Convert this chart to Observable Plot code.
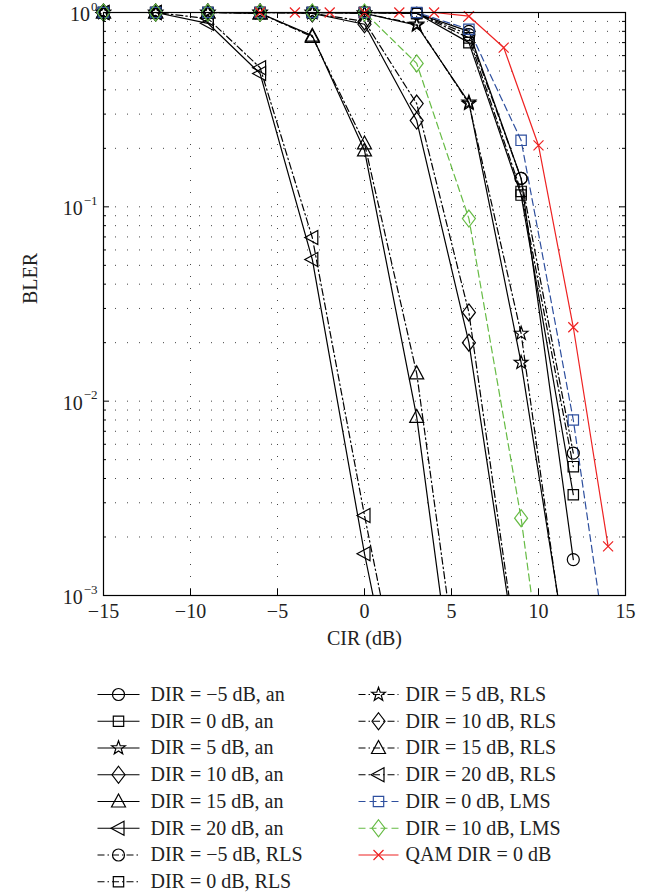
<!DOCTYPE html>
<html><head><meta charset="utf-8">
<script src="https://cdn.jsdelivr.net/npm/d3@7"></script>
<script src="https://cdn.jsdelivr.net/npm/@observablehq/plot@0.6"></script>
<style>body{margin:0;background:#fff;} #chart svg{display:block;}</style>
</head><body><div id="chart"></div><script>
// ---------- data ----------
const cirA = [-15,-12,-9,-6,-3,0,3,6,9,12,15];
const cirQam = [-6,-4,-2,0,2,4,6,8,10,12,14];

const blerM5an  = [1,1,1,1,1,1,0.99,0.80,0.14,0.00153];
const blerM5rls = [1,1,1,1,1,1,0.99,0.77,0.14,0.0054];
const bler0an   = [1,1,1,1,1,1,0.99,0.70,0.115,0.0033];
const bler0rls  = [1,1,1,1,1,1,0.99,0.74,0.12,0.0046];
const bler5an   = [1,1,1,1,1,0.99,0.86,0.345,0.0158,0.00031];
const bler5rls  = [1,1,1,1,1,0.99,0.87,0.34,0.0223,0.00026];
const bler10an  = [1,1,1,1,0.99,0.87,0.278,0.020,0.00034];
const bler10rls = [1,1,1,1,0.99,0.90,0.34,0.0286,0.00036];
const bler15an  = [1,1,1,0.99,0.76,0.195,0.0083,0.00008];
const bler15rls = [1,1,1,0.99,0.75,0.212,0.0139,0.00015];
const bler20an  = [1,1,0.88,0.485,0.0536,0.00164,0.00008];
const bler20rls = [1,1,0.93,0.52,0.0695,0.00258,0.00012];
const bler0lms  = [1,1,1,1,1,1,1,0.82,0.22,0.008,0.00011];
const bler10lms = [1,1,1,1,1,1,0.547,0.087,0.0025,0.000025];
const blerQam   = [1,1,1,1,1,1,0.957,0.66,0.207,0.024,0.00179];

const seriesLabels = [
  "DIR = −5 dB, an","DIR = 0 dB, an","DIR = 5 dB, an","DIR = 10 dB, an",
  "DIR = 15 dB, an","DIR = 20 dB, an","DIR = −5 dB, RLS","DIR = 0 dB, RLS",
  "DIR = 5 dB, RLS","DIR = 10 dB, RLS","DIR = 15 dB, RLS","DIR = 20 dB, RLS",
  "DIR = 0 dB, LMS","DIR = 10 dB, LMS","QAM DIR = 0 dB"
];
const xTicks = [-15,-10,-5,0,5,10,15];
const yTicks = [1,0.1,0.01,0.001];
const yTickExp = ["0","−1","−2","−3"];
const xLabel = "CIR (dB)";
const yLabel = "BLER";

// ---------- symbols ----------
const kOf = s => Math.sqrt(s/Math.PI)/6;
const SYM = {
  circle:{draw(c,s){const r=6*kOf(s);c.moveTo(r,0);c.arc(0,0,r,0,2*Math.PI);c.closePath();}},
  square:{draw(c,s){const h=5.2*kOf(s);c.moveTo(-h,-h);c.lineTo(h,-h);c.lineTo(h,h);c.lineTo(-h,h);c.closePath();}},
  star:{draw(c,s){const k=kOf(s),R=7.2*k,r=2.9*k;for(let i=0;i<10;i++){const a=-Math.PI/2+i*Math.PI/5,rr=i%2?r:R;const px=rr*Math.cos(a),py=rr*Math.sin(a);i?c.lineTo(px,py):c.moveTo(px,py);}c.closePath();}},
  diamond:{draw(c,s){const k=kOf(s),w=6.5*k,h=8.5*k;c.moveTo(0,-h);c.lineTo(w,0);c.lineTo(0,h);c.lineTo(-w,0);c.closePath();}},
  triangle:{draw(c,s){const k=kOf(s);c.moveTo(0,-7.5*k);c.lineTo(7*k,5.5*k);c.lineTo(-7*k,5.5*k);c.closePath();}},
  left:{draw(c,s){const k=kOf(s);c.moveTo(-7.5*k,0);c.lineTo(5.5*k,-7*k);c.lineTo(5.5*k,7*k);c.closePath();}},
  times:{draw(c,s){const h=5*kOf(s);c.moveTo(-h,-h);c.lineTo(h,h);c.moveTo(h,-h);c.lineTo(-h,h);}}
};

const BLACK="#000", BLUE="#2e4f9e", GREEN="#66bb44", RED="#ee2222";
const SOLID=null, DASHDOT="7,3,1.5,3", DASH="7,4";
const zip = (xs, ys) => ys.map((y,i)=>({x:xs[i], y}));
const series = [
  {pts:zip(cirA,blerM5an), sym:"circle", color:BLACK, dash:SOLID},
  {pts:zip(cirA,bler0an), sym:"square", color:BLACK, dash:SOLID},
  {pts:zip(cirA,bler5an), sym:"star", color:BLACK, dash:SOLID},
  {pts:zip(cirA,bler10an), sym:"diamond", color:BLACK, dash:SOLID},
  {pts:zip(cirA,bler15an), sym:"triangle", color:BLACK, dash:SOLID},
  {pts:zip(cirA,bler20an), sym:"left", color:BLACK, dash:SOLID},
  {pts:zip(cirA,blerM5rls), sym:"circle", color:BLACK, dash:DASHDOT},
  {pts:zip(cirA,bler0rls), sym:"square", color:BLACK, dash:DASHDOT},
  {pts:zip(cirA,bler5rls), sym:"star", color:BLACK, dash:DASHDOT},
  {pts:zip(cirA,bler10rls), sym:"diamond", color:BLACK, dash:DASHDOT},
  {pts:zip(cirA,bler15rls), sym:"triangle", color:BLACK, dash:DASHDOT},
  {pts:zip(cirA,bler20rls), sym:"left", color:BLACK, dash:DASHDOT},
  {pts:zip(cirA,bler0lms), sym:"square", color:BLUE, dash:DASH},
  {pts:zip(cirA,bler10lms), sym:"diamond", color:GREEN, dash:DASH},
  {pts:zip(cirQam,blerQam), sym:"times", color:RED, dash:SOLID}
].map((s,i)=>({...s, label:seriesLabels[i]}));

// ---------- layout ----------
const W=651, H=660, mL=103, mR=26, mT=12, mB=65;
const innerW=W-mL-mR, innerH=H-mT-mB;
const FONT="Liberation Serif";
const FS=20, EXPFS=13;

const yGrid=[];
for (let e=-3;e<0;e++) for (let m=1;m<=9;m++) yGrid.push(m*Math.pow(10,e));
const yMinor = yGrid.filter(v => !yTicks.some(t => Math.abs(t-v)<1e-12));

const ctx = document.createElement("canvas").getContext("2d");
ctx.font = `${EXPFS}px "${FONT}"`;
const yTickData = yTicks.map((v,i)=>({v, exp:yTickExp[i], w:ctx.measureText(yTickExp[i]).width}));

const marks = [
  Plot.ruleX(xTicks.slice(1,-1), {x:d=>d, stroke:"#444", strokeWidth:1, strokeDasharray:"1,11"}),
  Plot.ruleY(yGrid.filter(v=>v>0.001 && v<1), {y:d=>d, stroke:"#444", strokeWidth:1, strokeDasharray:"1,11"}),
  // inward ticks
  Plot.ruleX(xTicks, {x:d=>d, insetTop:innerH-6, stroke:"#000"}),
  Plot.ruleX(xTicks, {x:d=>d, insetBottom:innerH-6, stroke:"#000"}),
  Plot.ruleY(yTicks, {y:d=>d, insetRight:innerW-6, stroke:"#000"}),
  Plot.ruleY(yTicks, {y:d=>d, insetLeft:innerW-6, stroke:"#000"}),
  Plot.ruleY(yMinor, {y:d=>d, insetRight:innerW-3, stroke:"#000"}),
  Plot.ruleY(yMinor, {y:d=>d, insetLeft:innerW-3, stroke:"#000"}),
];
for (const s of series) {
  marks.push(Plot.line(s.pts, {x:"x", y:"y", stroke:s.color, strokeWidth:1.2, strokeDasharray:s.dash, clip:true}));
}
for (const s of series) {
  marks.push(Plot.dot(s.pts.filter(p=>p.y>=0.001), {x:"x", y:"y", symbol:SYM[s.sym], r:6, stroke:s.color, fill:"none", strokeWidth:1.2}));
}
marks.push(
  Plot.frame({stroke:"#000", strokeWidth:1.2}),
  Plot.text(xTicks, {x:d=>d, frameAnchor:"bottom", dy:22, text:d=>d3.format("d")(d), fontSize:FS, fill:"#222"}),
  Plot.text([xLabel], {frameAnchor:"bottom", dy:49, text:d=>d, fontSize:FS, fill:"#222"}),
  Plot.text(yTickData, {y:"v", frameAnchor:"left", dx:-6, dy:-6, text:"exp", textAnchor:"end", fontSize:EXPFS, fill:"#222"}),
  Plot.text([yLabel], {frameAnchor:"left", dx:-73, rotate:-90, text:d=>d, fontSize:FS, fill:"#222"})
);
for (const t of yTickData) {
  marks.push(Plot.text([t], {y:"v", frameAnchor:"left", dx:-(7+t.w), dy:2, text:()=>"10", textAnchor:"end", fontSize:FS, fill:"#222"}));
}

const chart = Plot.plot({
  width:W, height:H, marginLeft:mL, marginRight:mR, marginTop:mT, marginBottom:mB,
  style:{fontFamily:FONT, fontSize:`${FS}px`, background:"#fff", overflow:"visible"},
  x:{domain:[-15,15], axis:null},
  y:{type:"log", domain:[0.001,1], axis:null},
  marks
});

// ---------- legend (separate Plot) ----------
const LH = 894-H;
const legend = series.map((s,i)=>{
  const col = i<8 ? 0 : 1, row = i<8 ? i : i-8;
  const y = 34 + row*26.75;
  const geo = col===0 ? {x1:97,x2:139,xm:118,xt:150} : {x1:358,x2:398,xm:378,xt:405};
  return {...s, y, ...geo};
});
const lmarks = [];
for (const e of legend) {
  lmarks.push(Plot.link([e], {x1:"x1", x2:"x2", y1:"y", y2:"y", stroke:e.color, strokeWidth:1.2, strokeDasharray:e.dash}));
  lmarks.push(Plot.dot([e], {x:"xm", y:"y", symbol:SYM[e.sym], r:6, stroke:e.color, fill:"none", strokeWidth:1.2}));
}
lmarks.push(Plot.text(legend, {x:"xt", y:"y", text:"label", textAnchor:"start", fontSize:FS, fill:"#222"}));
const leg = Plot.plot({
  width:W, height:LH, margin:0,
  style:{fontFamily:FONT, fontSize:`${FS}px`, background:"#fff", overflow:"visible"},
  x:{domain:[0,W], range:[0,W], axis:null},
  y:{domain:[0,LH], range:[0,LH], axis:null},
  marks:lmarks
});

const root = document.getElementById("chart");
root.appendChild(chart);
root.appendChild(leg);
</script></body></html>
